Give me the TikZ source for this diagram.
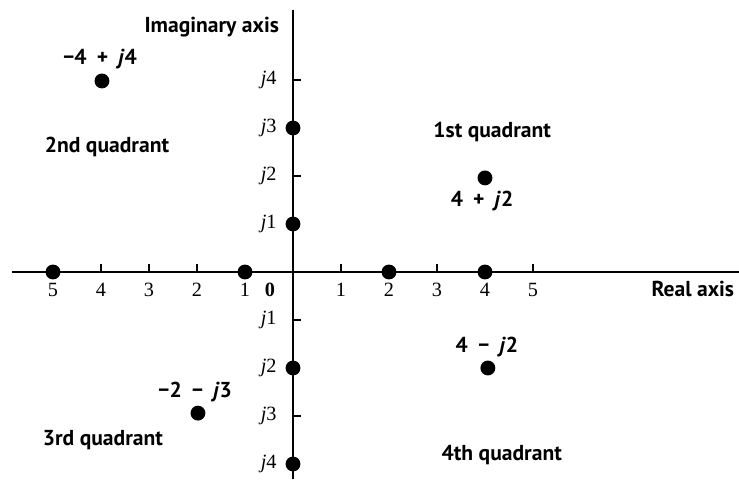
\documentclass[tikz,border=0pt]{standalone}
\usepackage{fontspec}
\setmainfont{PT Sans}
\newfontfamily\tickfont{Liberation Serif}
\usetikzlibrary{positioning}
\newcommand\pad{\hspace{6pt}}

\begin{document}
\begin{tikzpicture}[x=1cm,y=1cm,font=\fontsize{12.8}{15}\selectfont\bfseries,
    axis/.style={line width=1.1pt},
    tick/.style={line width=1pt},
    dot/.style={circle,fill=black,inner sep=0pt,minimum size=3.1mm},
    lbl/.style={inner sep=1pt,align=center},
    num/.style={inner sep=1pt,font=\fontsize{12}{14}\selectfont\tickfont}]
  \useasboundingbox (-6.104,-4.3125) rectangle (9.292,5.667);
  % axes
  \coordinate (xl) at (-5.85,0); \coordinate (xr) at (9.29,0);
  \coordinate (yb) at (0,-4.31); \coordinate (yt) at (0,5.46);
  \draw[axis] (xl) -- (xr);
  \draw[axis] (yb) -- (yt);
  \foreach \x in {-4,-3,-2,1,3,5} \draw[tick] (\x,0) -- ++(0,0.17);
  \foreach \y in {4,2,-1,-3} \draw[tick] (0,\y) -- ++(0.17,0);
  % tick labels
  \foreach \x/\t in {-5/5,-4/4,-3/3,-2/2,-1/1,1/1,2/2,3/3,4/4,5/5}
    \node[num] (rx\x) at (\x,-0.38) {\t};
  \node[num,font=\fontsize{12}{14}\selectfont\tickfont\bfseries] (rx0) at (-0.48,-0.38) {0};
  \foreach \y/\t in {4/4,3/3,2/2,1/1,-1/1,-2/2,-3/3,-4/4}
    \node[num,anchor=east] (iy\y) at (-0.3,\y) {\textit{j}\t};
  \node[lbl,anchor=east] (imag) at (-0.25,5.1) {Imaginary axis};
  \node[lbl] (real) at (8.33,-0.36) {Real axis};
  % points on the axes
  \foreach \x in {-5,-1,2,4} \node[dot] (px\x) at (\x,0) {};
  \foreach \y in {3,1,-2,-4} \node[dot] (py\y) at (0,\y) {};
  % complex numbers
  \node[dot] (z1) at (-3.98,3.98) {};
  \node[lbl] (z1l) at (-4.02,4.44) {−4\pad+\pad\textit{j}4};
  \node[dot] (z2) at (4,1.96) {};
  \node[lbl] (z2l) at (3.94,1.48) {4\pad+\pad\textit{j}2};
  \node[dot] (z3) at (4.06,-2) {};
  \node[lbl] (z3l) at (4.04,-1.56) {4\pad−\pad\textit{j}2};
  \node[dot] (z4) at (-1.98,-2.94) {};
  \node[lbl] (z4l) at (-2.04,-2.5) {−2\pad−\pad\textit{j}3};
  % quadrants
  \node[lbl] (q1) at (4.15,2.92) {1st quadrant};
  \node[lbl] (q2) at (-3.875,2.6) {2nd quadrant};
  \node[lbl] (q3) at (-3.96,-3.5) {3rd quadrant};
  \node[lbl] (q4) at (4.35,-3.81) {4th quadrant};
\end{tikzpicture}
\end{document}
